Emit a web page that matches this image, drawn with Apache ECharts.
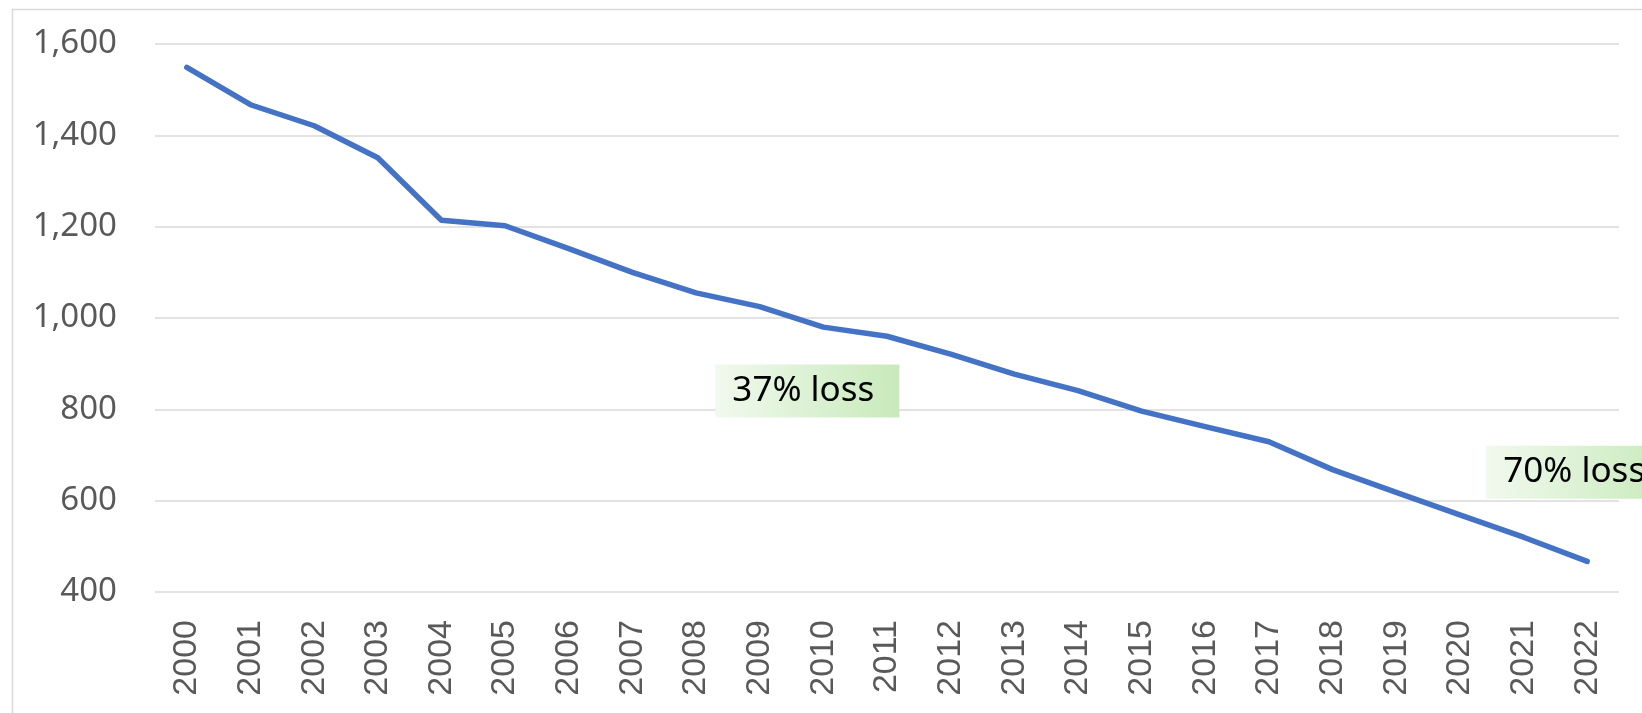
<!DOCTYPE html>
<html>
<head>
<meta charset="utf-8">
<title>Decline 2000-2022</title>
<script src="https://cdn.jsdelivr.net/npm/echarts@6/dist/echarts.min.js"></script>
<style>
  html, body { margin: 0; padding: 0; background: #fff; }
  #main { width: 1642px; height: 713px; }
</style>
</head>
<body>
<div id="main"></div>
<script>
// data
var years = ['2000', '2001', '2002', '2003', '2004', '2005', '2006', '2007',
  '2008', '2009', '2010', '2011', '2012', '2013', '2014', '2015', '2016',
  '2017', '2018', '2019', '2020', '2021', '2022'];
var values = [1549, 1467, 1421, 1351, 1214, 1202, 1152, 1100, 1055, 1025,
  980, 960, 921, 877, 841, 796, 762, 729, 668, 618, 569, 520, 467];
var yTicks = { min: 400, max: 1600, step: 200 };

// annotation boxes: text, anchor year, anchor value
var notes = [
  { text: '37% loss', year: '2010', value: 840, shift: [-16, 0] },
  { text: '70% loss', year: '2022', value: 662, shift: [-9, 0] }
];

var chart = echarts.init(document.getElementById('main'));

var boxFill = new echarts.graphic.LinearGradient(0, 0, 1, 0, [
  { offset: 0, color: '#f1f9ee' },
  { offset: 1, color: '#c8eabb' }
]);

var option = {
  animation: false,
  backgroundColor: '#fff',
  graphic: [{
    type: 'rect',
    left: 10,
    top: 7,
    shape: { width: 1700, height: 800 },
    style: { fill: 'none', stroke: '#d9d9d9', lineWidth: 1.5 },
    silent: true,
    z: -1
  }],
  grid: { left: 155, right: 23, top: 44, bottom: 121 },
  xAxis: {
    type: 'category',
    data: years,
    boundaryGap: true,
    axisLine: { show: false },
    axisTick: { show: false },
    axisLabel: {
      rotate: 90,
      margin: 28,
      color: '#595959',
      fontFamily: 'Liberation Sans',
      fontSize: 34
    }
  },
  yAxis: {
    type: 'value',
    min: yTicks.min,
    max: yTicks.max,
    interval: yTicks.step,
    axisLine: { show: false },
    axisTick: { show: false },
    splitLine: { lineStyle: { color: '#d9d9d9', width: 1.5 } },
    axisLabel: {
      margin: 38,
      color: '#595959',
      fontFamily: 'Noto Sans',
      fontSize: 33,
      formatter: function (v) { return v.toLocaleString('en-US') }
    }
  },
  series: [{
    type: 'line',
    data: values,
    showSymbol: false,
    symbol: 'none',
    clip: false,
    lineStyle: { color: '#4472c4', width: 5.5, cap: 'round', join: 'round' },
    markPoint: {
      silent: true,
      symbol: 'rect',
      symbolSize: [184, 53],
      itemStyle: { color: boxFill },
      label: {
        show: true,
        position: 'inside',
        offset: [-4, 0],
        color: '#000',
        fontFamily: 'Noto Sans',
        fontSize: 35
      },
      data: notes.map(function (n) {
        return {
          coord: [n.year, n.value],
          symbolOffset: n.shift,
          value: n.text,
          label: { formatter: n.text }
        }
      })
    }
  }]
};

chart.setOption(option);
</script>
</body>
</html>
